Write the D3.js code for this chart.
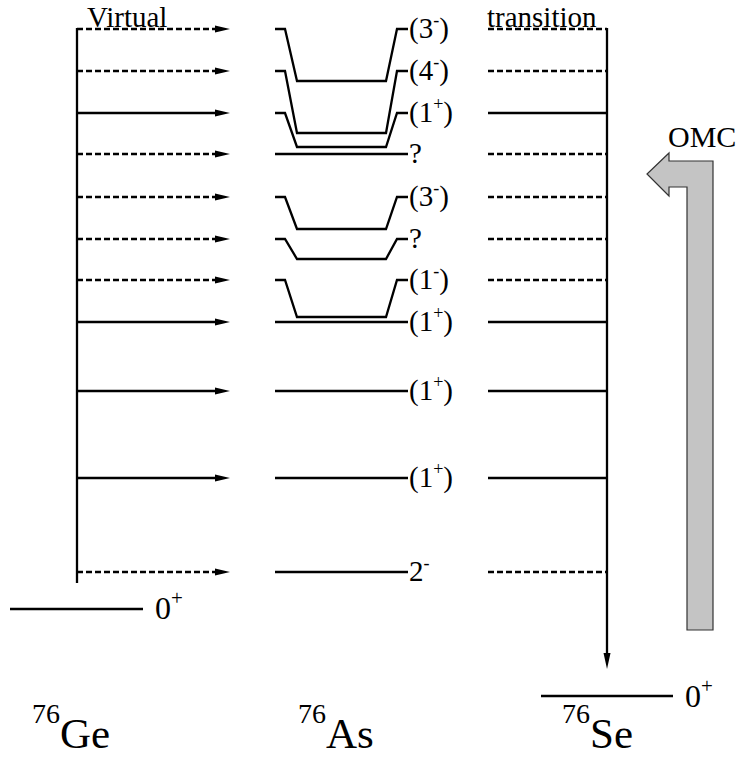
<!DOCTYPE html>
<meta charset="utf-8">
<title>76Ge - 76As - 76Se virtual transitions</title>

<style>
	body { margin: 0; background: #fff; }
	svg text { font-family: "Liberation Serif", "DejaVu Serif", "Times New Roman", Times, serif; fill: #000; }
	.lvl { stroke: #000; stroke-width: 2.3px; fill: none; }
	.lvl.dashed { stroke-dasharray: 6,3; }
	.head { fill: #000; stroke: none; }
	.omc { fill: #c4c4c4; stroke: #333; stroke-width: 1.2px; }
</style>
<body>
<script src="https://d3js.org/d3.v7.min.js"></script>
<script>

// schematic energies of the intermediate 76As states (arbitrary units, 76Se g.s. = 0)
var levelE = [667, 625, 583, 542, 499, 457, 416, 374, 305, 218, 124];
var levelSpin = ["3", "4", "1", "", "3", "", "1", "1", "1", "1", "2"];
var levelParity = ["-", "-", "+", "", "-", "", "-", "+", "+", "+", "-"];
var levelParen = [true, true, true, false, true, false, true, true, true, true, false];
var levelUnknown = [false, false, false, true, false, true, false, false, false, false, false];
var levelSolid = [false, false, true, false, false, false, false, true, true, true, false];
// lower edge of the bracket drawn under some levels (null = plain line)
var levelTrough = [615, 563, 549, null, 467, 437, 379, null, null, null, null];

var groundGe = 87;
var groundSe = 0;
var nuclei = ["Ge", "As", "Se"];
var massNumber = ["76", "76", "76"];

var width = 745, height = 759;
var serif = "'Liberation Serif', 'DejaVu Serif', 'Times New Roman', serif";

var y = d3.scaleLinear().domain([0, 667]).range([696, 29]);
var x = d3.scaleOrdinal().domain(nuclei).range([32, 298, 562]);

var svg = d3.select("body").append("svg")
	.attr("width", width)
	.attr("height", height)
	.attr("font-family", serif);

var levels = levelE.map(function(e, i) {
	return {e: e, spin: levelSpin[i], parity: levelParity[i], paren: levelParen[i],
		unknown: levelUnknown[i], solid: levelSolid[i], trough: levelTrough[i]};
});

var leftX = 77, arrowTip = 230, midL = 275, midR = 408, rightL = 488, rightX = 607;

// left vertical (76Ge side)
svg.append("line").attr("class", "lvl")
	.attr("x1", leftX).attr("x2", leftX)
	.attr("y1", y(levelE[0]) - 1).attr("y2", y(levelE[levelE.length - 1]) + 11);

// arrows into 76As
svg.selectAll(".arrowline").data(levels).enter().append("line")
	.attr("class", function(d) { return "lvl arrowline" + (d.solid ? "" : " dashed"); })
	.attr("x1", leftX).attr("x2", arrowTip - 14)
	.attr("y1", function(d) { return y(d.e); })
	.attr("y2", function(d) { return y(d.e); });

svg.selectAll(".head.l").data(levels).enter().append("path")
	.attr("class", "head l")
	.attr("d", function(d) {
		var yy = y(d.e);
		return "M" + arrowTip + "," + yy + "L" + (arrowTip - 15) + "," + (yy - 3.5) +
			"L" + (arrowTip - 15) + "," + (yy + 3.5) + "Z";
	});

// 76As levels
svg.selectAll(".mid").data(levels).enter().append("path")
	.attr("class", "lvl mid")
	.attr("d", function(d) {
		var yy = y(d.e);
		if (d.trough == null) return "M" + midL + "," + yy + "H" + midR;
		var yb = y(d.trough);
		return "M" + midL + "," + yy + "H285L297," + yb + "H386L397," + yy + "H" + midR;
	});

var lab = svg.selectAll(".lab").data(levels).enter().append("text")
	.attr("class", "lab")
	.attr("x", midR + 1)
	.attr("y", function(d) { return y(d.e) + 9; })
	.style("font-family", serif)
	.style("font-size", "29px");

lab.each(function(d) {
	var t = d3.select(this);
	if (d.unknown) { t.append("tspan").text("?"); return; }
	t.append("tspan").text((d.paren ? "(" : "") + d.spin);
	t.append("tspan").attr("dy", -12).style("font-size", "18px").text(d.parity);
	if (d.paren) t.append("tspan").attr("dy", 12).text(")");
});

// right side (76Se)
svg.selectAll(".rline").data(levels).enter().append("line")
	.attr("class", function(d) { return "lvl rline" + (d.solid ? "" : " dashed"); })
	.attr("x1", rightL).attr("x2", rightX)
	.attr("y1", function(d) { return y(d.e); })
	.attr("y2", function(d) { return y(d.e); });

svg.append("line").attr("class", "lvl")
	.attr("x1", rightX).attr("x2", rightX)
	.attr("y1", y(levelE[0]) - 1).attr("y2", y(groundSe) - 40);
svg.append("path").attr("class", "head")
	.attr("d", "M" + rightX + "," + (y(groundSe) - 27) + "L" + (rightX - 3.5) + "," + (y(groundSe) - 43) +
		"L" + (rightX + 3.5) + "," + (y(groundSe) - 43) + "Z");

// ground states
svg.append("line").attr("class", "lvl")
	.attr("x1", 10).attr("x2", 143)
	.attr("y1", y(groundGe)).attr("y2", y(groundGe));
svg.append("line").attr("class", "lvl")
	.attr("x1", 541).attr("x2", 673)
	.attr("y1", y(groundSe)).attr("y2", y(groundSe));

function gsLabel(xx, yy) {
	var t = svg.append("text").attr("x", xx).attr("y", yy)
		.style("font-family", serif).style("font-size", "32px");
	t.append("tspan").text("0");
	t.append("tspan").attr("dy", -14).style("font-size", "21px").text("+");
}
gsLabel(155, y(groundGe) + 10);
gsLabel(685, y(groundSe) + 11);

// nucleus names
nuclei.forEach(function(n, i) {
	var t = svg.append("text").attr("x", x(n)).attr("y", 723)
		.style("font-family", serif).style("font-size", "28px");
	t.append("tspan").text(massNumber[i]);
	t.append("tspan").attr("dy", 25).style("font-size", "43px").text(n);
});

svg.append("text").attr("x", 87).attr("y", 27)
	.style("font-family", serif).style("font-size", "29px").text("Virtual");
svg.append("text").attr("x", 487).attr("y", 27)
	.style("font-family", serif).style("font-size", "29px").text("transition");

// OMC arrow
svg.append("path").attr("class", "omc")
	.attr("d", "M669,153L669,161L713,161L713,630L687,630L687,187L669,187L669,196L647,174Z");
svg.append("text").attr("x", 668).attr("y", 147)
	.style("font-family", serif).style("font-size", "30px").text("OMC");

</script>
